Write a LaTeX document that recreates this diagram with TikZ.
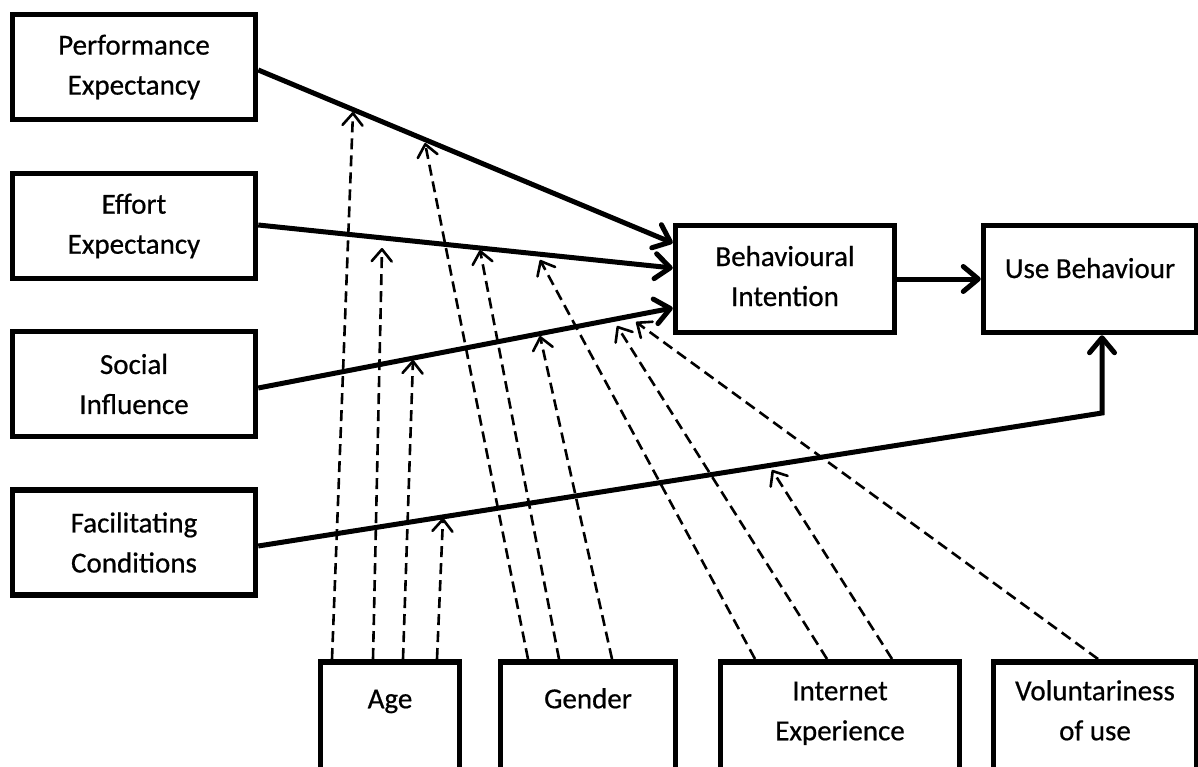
\documentclass[tikz,border=0pt]{standalone}
\usepackage{fontspec}
\setmainfont{Carlito}[FakeBold=0.6]
\usetikzlibrary{arrows.meta}
\begin{document}
\begin{tikzpicture}[x=1pt,y=-1pt,
  box/.style={draw, line width=5.5pt, fill=white, rectangle, inner sep=0pt,
    align=center, font=\fontsize{29}{40}\selectfont\addfontfeature{FakeBold=0.6}},
  sidebox/.style={box, minimum width=243pt, minimum height=105pt},
  basebox/.style={box, anchor=north, text depth=130pt},
  flow/.style={line width=5pt, -{Straight Barb[length=15pt,width=25pt,round]}},
  moder/.style={line width=2.6pt, dash pattern=on 11pt off 6pt,
    -{Straight Barb[length=12pt,width=20pt,round]}},
]
\useasboundingbox (0,0) rectangle (1198,767);
\clip (0,0) rectangle (1198,767);

% constructs
\node[sidebox] (pe) at (134,67)    {Performance\\Expectancy};
\node[sidebox] (ee) at (134,226)   {Effort\\Expectancy};
\node[sidebox] (si) at (134,384)   {Social\\Influence};
\node[sidebox] (fc) at (134,542.5) {Facilitating\\Conditions};

\node[box, minimum width=219pt, minimum height=107pt,
  text height=54pt, text depth=0pt] (bi) at (785,279) {Behavioural\\Intention};
\node[box, minimum width=213pt, minimum height=107pt,
  text height=20pt, text depth=22pt] (ub) at (1090,279) {Use Behaviour};

% moderators
\node[basebox, minimum width=139pt, inner ysep=18.5pt] (age) at (390,659) {\strut Age};
\node[basebox, minimum width=175pt, inner ysep=18.5pt] (gender) at (588,659) {\strut Gender};
\node[basebox, minimum width=239pt, inner ysep=10.5pt] (ie) at (840,659)
  {\strut Internet\\Experience};
\node[basebox, minimum width=203pt, inner ysep=10.5pt] (vol) at (1095,659)
  {\strut Voluntariness\\of use};

% main paths
\draw[flow] ([yshift=-3pt]pe.east) -- ([yshift=36pt]bi.west);
\draw[flow] ([yshift=1pt]ee.east)  -- ([yshift=11pt]bi.west);
\draw[flow] ([yshift=-4pt]si.east) -- ([yshift=-29pt]bi.west);
\draw[flow] (bi.east) -- (ub.west);
\coordinate (bend) at (1102,413);
\draw[flow] ([yshift=-3.5pt]fc.east) -- (bend) -- (bend |- ub.south);

% moderating effects
\coordinate (age-pe) at (353,112);
\coordinate (age-ee) at (382,248);
\coordinate (age-si) at (413,360);
\coordinate (age-fc) at (443,518);
\coordinate (gen-pe) at (425,143);
\coordinate (gen-ee) at (480,250);
\coordinate (gen-si) at (540,336);
\coordinate (exp-ee) at (540,260);
\coordinate (exp-si) at (617,326);
\coordinate (exp-fc) at (772,470);
\coordinate (vol-si) at (636,322);

\draw[moder] ([xshift=-58pt]age.north) -- (age-pe);
\draw[moder] ([xshift=-17pt]age.north) -- (age-ee);
\draw[moder] ([xshift=13pt]age.north)  -- (age-si);
\draw[moder] ([xshift=47pt]age.north)  -- (age-fc);
\draw[moder] ([xshift=-60pt]gender.north) -- (gen-pe);
\draw[moder] ([xshift=-29pt]gender.north) -- (gen-ee);
\draw[moder] ([xshift=24pt]gender.north)  -- (gen-si);
\draw[moder] ([xshift=-85pt]ie.north) -- (exp-ee);
\draw[moder] ([xshift=-13pt]ie.north) -- (exp-si);
\draw[moder] ([xshift=52pt]ie.north)  -- (exp-fc);
\draw[moder] ([xshift=3pt]vol.north)  -- (vol-si);
\end{tikzpicture}
\end{document}
